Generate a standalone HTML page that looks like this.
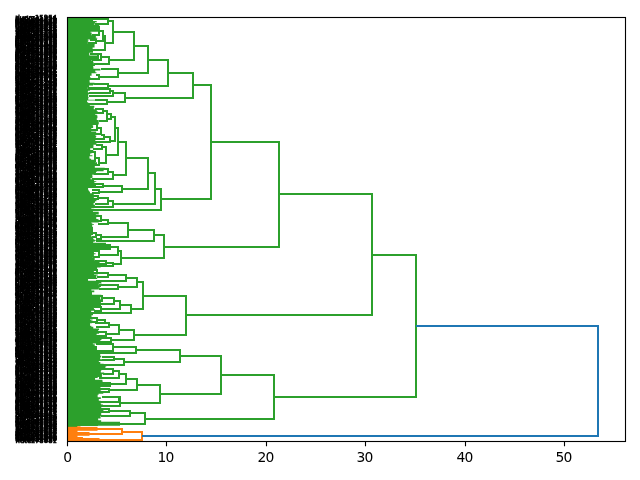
<!DOCTYPE html>
<html><head><meta charset="utf-8"><title>dendrogram</title>
<style>html,body{margin:0;padding:0;background:#fff}svg{display:block}text{font-family:"DejaVu Sans","Liberation Sans",sans-serif;fill:#000}</style></head><body>
<svg width="640" height="480" viewBox="0 0 640 480">
<rect width="640" height="480" fill="#fff"/>
<path fill="#2ca02c" d="M67.5 17.5H94.12V19.27H93.08V21.03H96.67V21.92H95.08V22.80H96.98V23.68H93.93V24.57H99.26V26.33H98.12V27.22H98.01V28.98H98.23V31.63H90.51V32.52H91.62V35.17H95.85V37.82H97.22V38.70H95.75V39.58H87.81V40.47H88.69V41.35H87.88V44.00H94.66V44.88H94.54V47.53H92.64V49.30H94.28V50.18H93.02V52.83H89.30V55.48H98.43V57.25H92.57V59.02H94.08V59.90H91.59V60.78H93.14V62.55H93.85V64.32H94.93V66.08H93.21V66.97H93.38V68.73H100.33V70.50H95.28V72.27H96.48V73.15H91.56V75.80H89.99V77.57H90.88V79.33H89.59V81.98H89.74V82.87H94.46V84.63H93.01V85.52H89.06V87.28H87.80V89.05H89.90V90.82H87.88V92.58H89.04V94.35H88.21V97.00H88.56V97.88H88.25V99.65H95.19V100.53H87.08V102.30H88.21V104.07H89.89V105.83H94.32V107.60H93.77V109.37H96.79V111.13H97.75V112.90H94.69V113.78H95.21V114.67H96.84V115.55H97.44V118.20H96.81V119.97H98.67V121.73H98.78V124.38H92.22V125.27H93.13V127.92H91.40V128.80H91.17V131.45H96.18V133.22H97.02V134.98H95.47V135.87H96.34V136.75H95.99V137.63H95.16V138.52H95.33V141.17H99.62V142.05H96.39V144.70H93.45V145.58H93.52V146.47H93.41V148.23H90.23V150.00H93.28V151.77H91.48V153.53H90.10V155.30H92.42V156.18H89.48V157.95H89.61V158.83H91.13V159.72H95.07V162.37H97.00V165.02H94.84V167.67H104.74V168.55H104.11V170.32H103.54V171.20H96.66V172.08H95.95V174.73H91.95V175.62H92.62V176.50H92.39V178.27H90.50V179.15H94.04V180.92H96.26V181.80H94.45V183.57H96.82V184.45H95.97V186.22H97.74V187.98H88.08V189.75H88.59V190.63H88.98V191.52H89.98V193.28H93.74V195.93H93.98V197.70H93.60V199.47H96.22V200.35H96.48V201.23H94.97V202.12H94.82V203.00H93.60V204.77H94.92V206.53H93.34V207.42H94.28V208.30H91.33V209.18H93.62V210.95H92.94V211.83H98.73V214.48H95.85V216.25H96.26V218.90H98.60V219.78H97.64V220.67H97.32V221.55H98.69V222.43H91.40V223.32H92.33V224.20H93.97V225.08H92.21V226.85H92.72V228.62H92.99V229.50H92.94V231.27H92.65V233.92H91.27V236.57H93.26V239.22H94.38V240.10H95.60V240.98H94.68V241.87H93.15V242.75H105.97V244.52H105.75V245.40H106.19V247.17H105.74V249.82H96.89V250.70H94.67V251.58H93.95V253.35H95.58V254.23H93.90V256.88H92.85V257.77H94.71V260.42H99.59V263.07H99.38V264.83H100.63V267.48H97.10V270.13H93.87V272.78H94.03V274.55H97.74V275.43H96.26V276.32H96.35V278.08H97.15V278.97H88.06V280.73H101.04V282.50H101.59V283.38H98.80V285.15H101.69V286.03H100.91V286.92H99.69V287.80H98.87V289.57H91.37V290.45H94.28V292.22H91.99V293.98H92.05V294.87H101.33V295.75H99.98V296.63H100.34V298.40H100.15V299.28H100.98V301.93H100.91V304.58H101.00V305.47H100.95V306.35H94.09V307.23H93.94V309.00H94.75V309.88H96.67V310.77H91.22V312.53H93.02V315.18H91.53V317.83H90.11V319.60H92.60V320.48H91.29V321.37H90.74V322.25H92.02V323.13H90.09V324.90H90.03V325.78H91.39V326.67H93.28V328.43H99.04V330.20H97.98V331.97H97.64V332.85H99.08V333.73H96.72V334.62H96.51V335.50H98.00V337.27H101.46V339.92H100.36V341.68H99.75V342.57H96.28V343.45H92.85V344.33H94.73V346.98H94.60V347.87H96.07V348.75H95.10V349.63H95.10V351.40H99.72V354.05H100.20V355.82H101.21V357.58H100.00V358.47H100.22V359.35H102.24V361.12H98.85V362.00H100.31V363.77H103.60V364.65H106.35V366.42H105.40V368.18H103.46V369.95H101.35V370.83H100.81V372.60H104.17V374.37H101.93V377.02H97.68V377.90H95.06V379.67H102.30V380.55H102.59V382.32H104.06V384.08H103.17V384.97H102.62V385.85H102.80V386.73H100.45V389.38H101.35V390.27H100.60V391.15H103.29V393.80H98.60V394.68H97.66V397.33H100.82V399.10H98.82V400.87H100.55V403.52H101.19V404.40H103.00V407.05H101.29V409.70H103.44V412.35H101.22V415.00H101.19V415.88H100.59V418.53H98.10V419.42H98.27V420.30H101.16V422.07H100.73V423.83H97.98V425.90H67.5Z"/>
<path fill="#2ca02c" d="M90 243H100L110 245V249H90Z"/>
<path fill="#2ca02c" d="M67.5 421.8H120V425.8H77.5V426.9H67.5Z"/>
<g fill="#ff7f0e"><rect x="67.5" y="426.9" width="10.0" height="14.60"/><rect x="67.5" y="426.9" width="30.0" height="3.90"/><rect x="77" y="426.3" width="3.5" height="2"/><rect x="67.5" y="432" width="22.0" height="3.8"/><rect x="67.5" y="437" width="15.5" height="4.5"/><rect x="67.5" y="438" width="32.0" height="3.5"/></g>
<g fill="none" stroke="#2ca02c" stroke-width="2" stroke-linejoin="miter" stroke-linecap="butt">
<path d="M91.00 19.00H108.00V24.00H95.00M108.00 21.00H113.00V43.00H105.00M103.00 36.00H105.00V50.00H92.00M90.00 40.00H96.00V43.00H88.00M90.00 54.00H98.00V58.00H92.00M99.00 31.00H103.00V41.00H95.00M90.00 27.00H99.00V35.00H92.00M113.00 32.00H134.00V60.00H109.00M101.00 57.00H109.00V64.00H94.00M90.00 54.00H101.00V60.00H92.00M101.00 69.00H118.00V77.00H99.00M96.00 75.00H99.00V79.00H88.00M94.00 84.00H108.00V88.00H88.00M88.00 89.00H110.00V93.00H89.00M110.00 91.00H113.00V96.00H89.00M113.00 93.00H125.00V102.00H107.00M95.00 100.00H107.00V104.00H88.00M95.00 109.00H103.00V113.00H94.00M103.00 111.00H107.00V121.00H99.00M107.00 114.00H111.00V119.00H107.00M111.00 117.00H115.00V141.00H110.00M115.00 128.00H118.00V155.00H106.00M118.00 142.00H126.00V175.00H113.00M104.00 137.00H110.00V142.00H95.00M101.00 135.00H104.00V139.00H94.00M97.00 128.00H101.00V134.00H93.00M92.00 124.00H97.00V130.00H90.00M96.00 145.00H102.00V149.00H93.00M102.00 147.00H106.00V163.00H99.00M95.00 158.00H99.00V165.00H92.00M90.00 152.00H95.00V161.00H90.00M108.00 172.00H113.00V179.00H92.00M96.00 169.00H108.00V174.00H94.00M103.00 186.00H122.00V192.00H99.00M94.00 184.00H103.00V187.00H90.00M92.00 190.00H99.00V193.00H92.00M108.00 201.00H113.00V207.00H92.00M98.00 198.00H108.00V204.00H95.00M92.00 196.00H98.00V199.00H92.00M108.00 223.00H128.00V237.00H101.00M101.00 220.00H108.00V224.00H98.00M95.00 216.00H101.00V221.00H96.00M97.00 235.00H101.00V239.00H96.00M92.00 233.00H96.00V237.00H92.00M88.00 228.00H92.00V234.00H88.00M110.00 247.00H118.00V255.00H99.00M118.00 251.00H121.00V264.00H113.00M106.00 263.00H113.00V266.00H95.00M95.00 261.00H106.00V264.00H95.00M96.00 245.00H110.00V249.00H96.00M93.00 251.00H99.00V257.00H93.00M137.00 282.00H143.00V309.00H131.00M126.00 278.00H137.00V287.00H118.00M108.00 275.00H126.00V281.00H96.00M97.00 273.00H108.00V277.00H97.00M99.00 285.00H118.00V289.00H99.00M120.00 305.00H131.00V313.00H91.00M114.00 301.00H120.00V309.00H101.00M102.00 298.00H114.00V304.00H99.00M95.00 296.00H102.00V301.00H95.00M94.00 307.00H101.00V311.00H94.00M90.00 270.00H97.00V273.00H90.00M119.00 330.00H134.00V340.00H111.00M109.00 325.00H119.00V334.00H106.00M105.00 323.00H109.00V327.00H96.00M97.00 320.00H105.00V323.00H95.00M90.00 318.00H97.00V322.00H90.00M95.00 332.00H106.00V336.00H95.00M95.00 338.00H111.00V342.00H95.00M113.00 347.00H136.00V353.00H96.00M96.00 344.00H113.00V351.00H96.00M90.00 347.00H96.00V351.00H90.00M114.00 359.00H124.00V365.00H100.00M102.00 357.00H114.00V360.00H102.00M103.00 369.00H113.00V374.00H103.00M113.00 371.00H119.00V378.00H99.00M119.00 374.00H126.00V384.00H110.00M97.00 383.00H110.00V386.00H97.00M97.00 384.00H110.00V385.00H97.00M126.00 379.00H137.00V390.00H109.00M100.00 389.00H109.00V392.00H100.00M102.00 397.00H120.00V406.00H92.00M102.00 397.00H119.00V402.00H92.00M130.00 413.00H145.00V424.00H120.00M109.00 411.00H130.00V416.00H101.00M97.00 409.00H109.00V412.00H100.00"/>
<path d="M372.00 255.00H416.00V397.00H274.00M279.00 194.00H372.00V315.00H186.00M211.00 142.00H279.00V247.00H164.00M193.00 85.00H211.00V199.00H161.00M168.00 73.00H193.00V98.00H125.00M148.00 60.00H168.00V86.00H108.00M134.00 46.00H148.00V73.00H118.00M221.00 375.00H274.00V419.00H145.00M180.00 356.00H221.00V394.00H160.00M136.00 350.00H180.00V362.00H124.00M137.00 385.00H160.00V403.00H120.00M143.00 296.00H186.00V335.00H134.00M154.00 235.00H164.00V258.00H121.00M155.00 189.00H161.00V210.00H88.00M148.00 173.00H155.00V204.00H113.00M126.00 158.00H148.00V189.00H122.00M128.00 230.00H154.00V241.00H96.00"/>
</g>
<path fill="none" stroke="#ff7f0e" stroke-width="2" d="M122.00 432.00H142.00V440.00H80.00M80.00 429.00H122.00V434.00H80.00"/>
<path fill="none" stroke="#1f77b4" stroke-width="2" d="M416 326H598V436H142"/>
<rect x="67.5" y="17.5" width="558.00" height="424.00" fill="none" stroke="#000" stroke-width="1.11"/>
<path d="M67.50 441.5v4.86M166.50 441.5v4.86M266.50 441.5v4.86M365.50 441.5v4.86M465.50 441.5v4.86M564.50 441.5v4.86" stroke="#000" stroke-width="1.11" fill="none"/>
<g font-size="13.89px" text-anchor="middle" letter-spacing="-0.9px"><text x="67.25" y="461.9">0</text><text x="165.40" y="461.9">10</text><text x="265.40" y="461.9">20</text><text x="364.40" y="461.9">30</text><text x="464.40" y="461.9">40</text><text x="563.40" y="461.9">50</text></g>
<g font-size="6.94px" text-anchor="end" stroke="#000" stroke-width="0.5"><text x="57.0" y="443.16">hdtez78081</text><text x="57.0" y="442.28">breoc85137</text><text x="57.0" y="441.39">actun34719</text><text x="57.0" y="440.51">betbs30696</text><text x="57.0" y="439.62">dzour38506</text><text x="57.0" y="438.74">hhktn32431</text><text x="57.0" y="437.86">dtzee08494</text><text x="57.0" y="436.98">okher04852</text><text x="57.0" y="436.09">btacu38492</text><text x="57.0" y="435.21">ezrba67196</text><text x="57.0" y="434.33">dzuhr28527</text><text x="57.0" y="433.44">arznn05011</text><text x="57.0" y="432.56">eaztn10215</text><text x="57.0" y="431.68">ekaut13289</text><text x="57.0" y="430.79">odbrz53711</text><text x="57.0" y="429.91">hthko54584</text><text x="57.0" y="429.03">ancte56906</text><text x="57.0" y="428.14">dtokb21305</text><text x="57.0" y="427.26">daarc75086</text><text x="57.0" y="426.38">ndstd08794</text><text x="57.0" y="425.49">btcou63273</text><text x="57.0" y="424.61">nrkao80573</text><text x="57.0" y="423.73">ekudr67881</text><text x="57.0" y="422.84">drson05386</text><text x="57.0" y="421.96">antkb40397</text><text x="57.0" y="421.08">eootk23430</text><text x="57.0" y="420.19">aaruk23536</text><text x="57.0" y="419.31">urokb47884</text><text x="57.0" y="418.43">bzrua94423</text><text x="57.0" y="417.54">bcaor80494</text><text x="57.0" y="416.66">bestd08587</text><text x="57.0" y="415.78">nhtds33313</text><text x="57.0" y="414.89">uehzr04827</text><text x="57.0" y="414.01">etdko22117</text><text x="57.0" y="413.12">hbatc33034</text><text x="57.0" y="412.24">onzth43362</text><text x="57.0" y="411.36">bruze40641</text><text x="57.0" y="410.48">nraka54747</text><text x="57.0" y="409.59">ncard07129</text><text x="57.0" y="408.71">atknh76492</text><text x="57.0" y="407.83">hdste01849</text><text x="57.0" y="406.94">erzdu52684</text><text x="57.0" y="406.06">haatk32571</text><text x="57.0" y="405.18">draas31151</text><text x="57.0" y="404.29">drkab26151</text><text x="57.0" y="403.41">oktdh93768</text><text x="57.0" y="402.53">akoot22988</text><text x="57.0" y="401.64">ezrbh98258</text><text x="57.0" y="400.76">hahzt84148</text><text x="57.0" y="399.88">etsba20864</text><text x="57.0" y="398.99">nerok61884</text><text x="57.0" y="398.11">aaosr51322</text><text x="57.0" y="397.23">bcrdd81522</text><text x="57.0" y="396.34">dcndr18140</text><text x="57.0" y="395.46">atcba99060</text><text x="57.0" y="394.58">ocrbe04512</text><text x="57.0" y="393.69">bsrhu38595</text><text x="57.0" y="392.81">nnrzo37040</text><text x="57.0" y="391.93">annct54122</text><text x="57.0" y="391.04">asotb93636</text><text x="57.0" y="390.16">bhzrd99900</text><text x="57.0" y="389.28">aarns64825</text><text x="57.0" y="388.39">nhkrd21730</text><text x="57.0" y="387.51">bbuzr12471</text><text x="57.0" y="386.62">oorsb39733</text><text x="57.0" y="385.74">hords69670</text><text x="57.0" y="384.86">annrz22223</text><text x="57.0" y="383.98">uuzhr60557</text><text x="57.0" y="383.09">eesrh94786</text><text x="57.0" y="382.21">ntznd95516</text><text x="57.0" y="381.33">btsdb39597</text><text x="57.0" y="380.44">hzroh27059</text><text x="57.0" y="379.56">otuas65599</text><text x="57.0" y="378.68">htuac97117</text><text x="57.0" y="377.79">ercoo59493</text><text x="57.0" y="376.91">onhrs52446</text><text x="57.0" y="376.03">dkhto67928</text><text x="57.0" y="375.14">dcnta32928</text><text x="57.0" y="374.26">ekdet70914</text><text x="57.0" y="373.38">euakt97269</text><text x="57.0" y="372.49">uercd33090</text><text x="57.0" y="371.61">hkroo55121</text><text x="57.0" y="370.73">nthbs51375</text><text x="57.0" y="369.84">urked84174</text><text x="57.0" y="368.96">edntz99600</text><text x="57.0" y="368.08">dtunz55850</text><text x="57.0" y="367.19">duast85773</text><text x="57.0" y="366.31">hzntu20021</text><text x="57.0" y="365.43">htzoa82989</text><text x="57.0" y="364.54">atace75823</text><text x="57.0" y="363.66">destd52754</text><text x="57.0" y="362.78">dtcbh97243</text><text x="57.0" y="361.89">ubstb62028</text><text x="57.0" y="361.01">uarus65296</text><text x="57.0" y="360.12">datdz61048</text><text x="57.0" y="359.24">nozor83378</text><text x="57.0" y="358.36">akaat63527</text><text x="57.0" y="357.48">dazet12381</text><text x="57.0" y="356.59">nnukr44820</text><text x="57.0" y="355.71">ohtka52917</text><text x="57.0" y="354.83">nzthn25206</text><text x="57.0" y="353.94">nkhdr94722</text><text x="57.0" y="353.06">ocaro24895</text><text x="57.0" y="352.18">usaor05173</text><text x="57.0" y="351.29">ukdbr13186</text><text x="57.0" y="350.41">antsd55284</text><text x="57.0" y="349.53">anrac15577</text><text x="57.0" y="348.64">orous62317</text><text x="57.0" y="347.76">obsbt82168</text><text x="57.0" y="346.88">asroa15905</text><text x="57.0" y="345.99">duras06571</text><text x="57.0" y="345.11">ndtbz06902</text><text x="57.0" y="344.23">araaz40959</text><text x="57.0" y="343.34">dutak88719</text><text x="57.0" y="342.46">ddrbk50559</text><text x="57.0" y="341.58">uzhtn79406</text><text x="57.0" y="340.69">adkht50771</text><text x="57.0" y="339.81">oerzu35130</text><text x="57.0" y="338.93">odzra71807</text><text x="57.0" y="338.04">unbts98328</text><text x="57.0" y="337.16">ehats33388</text><text x="57.0" y="336.28">aoucr30522</text><text x="57.0" y="335.39">ohsrn25206</text><text x="57.0" y="334.51">bdths32283</text><text x="57.0" y="333.62">atunc20467</text><text x="57.0" y="332.74">ncarn26823</text><text x="57.0" y="331.86">uketh77741</text><text x="57.0" y="330.98">dhkra10965</text><text x="57.0" y="330.09">aaatk08412</text><text x="57.0" y="329.21">obctb87781</text><text x="57.0" y="328.33">otsdu22560</text><text x="57.0" y="327.44">azrhn67283</text><text x="57.0" y="326.56">ustab88721</text><text x="57.0" y="325.68">hutzb51124</text><text x="57.0" y="324.79">bnrus18762</text><text x="57.0" y="323.91">arcue81088</text><text x="57.0" y="323.03">nctdu59288</text><text x="57.0" y="322.14">nnrse43513</text><text x="57.0" y="321.26">eakdt19581</text><text x="57.0" y="320.38">hzroo74840</text><text x="57.0" y="319.49">hzntd59793</text><text x="57.0" y="318.61">ubkdr37517</text><text x="57.0" y="317.73">bhtse31214</text><text x="57.0" y="316.84">bzorh18920</text><text x="57.0" y="315.96">aunrc69020</text><text x="57.0" y="315.08">hdrns36286</text><text x="57.0" y="314.19">ddsdr78728</text><text x="57.0" y="313.31">bbsru80272</text><text x="57.0" y="312.43">erhec67955</text><text x="57.0" y="311.54">ncnht53676</text><text x="57.0" y="310.66">urdch21428</text><text x="57.0" y="309.78">ncant46755</text><text x="57.0" y="308.89">enocr95806</text><text x="57.0" y="308.01">usuar11611</text><text x="57.0" y="307.12">etdcd02549</text><text x="57.0" y="306.24">btkeh13482</text><text x="57.0" y="305.36">nktbd64696</text><text x="57.0" y="304.48">htsbb29757</text><text x="57.0" y="303.59">druok78255</text><text x="57.0" y="302.71">aotas43919</text><text x="57.0" y="301.83">onosr89150</text><text x="57.0" y="300.94">neocr69572</text><text x="57.0" y="300.06">dsbrn18272</text><text x="57.0" y="299.18">ocour84092</text><text x="57.0" y="298.29">hhacr68197</text><text x="57.0" y="297.41">aztoe45554</text><text x="57.0" y="296.53">dkbat77365</text><text x="57.0" y="295.64">dubkr75673</text><text x="57.0" y="294.76">hhekr79947</text><text x="57.0" y="293.88">eoetz80320</text><text x="57.0" y="292.99">urush24746</text><text x="57.0" y="292.11">oozra72961</text><text x="57.0" y="291.23">nurch02855</text><text x="57.0" y="290.34">dbrnk46414</text><text x="57.0" y="289.46">betsd88518</text><text x="57.0" y="288.58">ehbst54137</text><text x="57.0" y="287.69">baork74967</text><text x="57.0" y="286.81">dohrk90786</text><text x="57.0" y="285.93">uhtnk84961</text><text x="57.0" y="285.04">natsu70369</text><text x="57.0" y="284.16">hdcot43264</text><text x="57.0" y="283.28">ncten06218</text><text x="57.0" y="282.39">huhtk51054</text><text x="57.0" y="281.51">unatc88667</text><text x="57.0" y="280.62">betbs24669</text><text x="57.0" y="279.74">osuto47542</text><text x="57.0" y="278.86">nznrb90424</text><text x="57.0" y="277.98">nosdt54035</text><text x="57.0" y="277.09">darbc00364</text><text x="57.0" y="276.21">hcarh25775</text><text x="57.0" y="275.33">dukhr78871</text><text x="57.0" y="274.44">bcddr09978</text><text x="57.0" y="273.56">dcuut89727</text><text x="57.0" y="272.68">ndcte34945</text><text x="57.0" y="271.79">btbnc07166</text><text x="57.0" y="270.91">eosra29215</text><text x="57.0" y="270.03">adrdz54837</text><text x="57.0" y="269.14">htkub40521</text><text x="57.0" y="268.26">orsua46975</text><text x="57.0" y="267.38">odtca43911</text><text x="57.0" y="266.49">oknor46038</text><text x="57.0" y="265.61">eotse57091</text><text x="57.0" y="264.73">ahsra12141</text><text x="57.0" y="263.84">ehdts20869</text><text x="57.0" y="262.96">nnets38961</text><text x="57.0" y="262.08">uerke77013</text><text x="57.0" y="261.19">necor88847</text><text x="57.0" y="260.31">brhco51109</text><text x="57.0" y="259.43">bcdre73661</text><text x="57.0" y="258.54">nsthe37823</text><text x="57.0" y="257.66">doths36244</text><text x="57.0" y="256.78">dantc86384</text><text x="57.0" y="255.89">uezro15103</text><text x="57.0" y="255.01">hekra25963</text><text x="57.0" y="254.12">hdosr73996</text><text x="57.0" y="253.24">ecuth85907</text><text x="57.0" y="252.36">hzraa27543</text><text x="57.0" y="251.47">nbzot69117</text><text x="57.0" y="250.59">bntoc88681</text><text x="57.0" y="249.71">ezord22876</text><text x="57.0" y="248.82">drzeh45512</text><text x="57.0" y="247.94">obset89945</text><text x="57.0" y="247.06">ukuer17445</text><text x="57.0" y="246.18">nhzdr82496</text><text x="57.0" y="245.29">bodrk27043</text><text x="57.0" y="244.41">bhcta07907</text><text x="57.0" y="243.53">hthec21144</text><text x="57.0" y="242.64">nuust73076</text><text x="57.0" y="241.76">bzata96861</text><text x="57.0" y="240.88">hbztu01088</text><text x="57.0" y="239.99">nbcht18173</text><text x="57.0" y="239.11">ataso83637</text><text x="57.0" y="238.22">dbhts84843</text><text x="57.0" y="237.34">nnrze31375</text><text x="57.0" y="236.46">asabt64799</text><text x="57.0" y="235.57">ousrd21448</text><text x="57.0" y="234.69">druok25010</text><text x="57.0" y="233.81">etzna09436</text><text x="57.0" y="232.93">aston94994</text><text x="57.0" y="232.04">dtosh61451</text><text x="57.0" y="231.16">bnruc07865</text><text x="57.0" y="230.28">nhzto45011</text><text x="57.0" y="229.39">aseet86570</text><text x="57.0" y="228.51">nonrk34220</text><text x="57.0" y="227.62">brzed85154</text><text x="57.0" y="226.74">bekht29694</text><text x="57.0" y="225.86">bbors65946</text><text x="57.0" y="224.97">bbsut73797</text><text x="57.0" y="224.09">ubrds06189</text><text x="57.0" y="223.21">naarz15799</text><text x="57.0" y="222.32">dzobr22020</text><text x="57.0" y="221.44">nnzra67263</text><text x="57.0" y="220.56">nzuat71936</text><text x="57.0" y="219.68">nbazr25316</text><text x="57.0" y="218.79">urauc09667</text><text x="57.0" y="217.91">hddts77111</text><text x="57.0" y="217.03">hrhsu63854</text><text x="57.0" y="216.14">uraak20746</text><text x="57.0" y="215.26">uoezr69240</text><text x="57.0" y="214.38">ehsdr47315</text><text x="57.0" y="213.49">untcu43975</text><text x="57.0" y="212.61">urnec82689</text><text x="57.0" y="211.72">dzdth46770</text><text x="57.0" y="210.84">dztab36907</text><text x="57.0" y="209.96">edtsb45931</text><text x="57.0" y="209.07">onakt66025</text><text x="57.0" y="208.19">nesre00947</text><text x="57.0" y="207.31">uoctu18850</text><text x="57.0" y="206.43">hshht76460</text><text x="57.0" y="205.54">bdhtz90476</text><text x="57.0" y="204.66">obrzu71628</text><text x="57.0" y="203.78">arcdh52372</text><text x="57.0" y="202.89">ueshr96192</text><text x="57.0" y="202.01">ardsa00661</text><text x="57.0" y="201.12">eshat42145</text><text x="57.0" y="200.24">nactu54299</text><text x="57.0" y="199.36">abtkn01782</text><text x="57.0" y="198.47">atnsn12248</text><text x="57.0" y="197.59">ardze55473</text><text x="57.0" y="196.71">ntdnc84843</text><text x="57.0" y="195.82">huzth01184</text><text x="57.0" y="194.94">urbnc03663</text><text x="57.0" y="194.06">dbzar79439</text><text x="57.0" y="193.18">nzddr93012</text><text x="57.0" y="192.29">etuuk27799</text><text x="57.0" y="191.41">nkabr88370</text><text x="57.0" y="190.53">naetk86120</text><text x="57.0" y="189.64">etahs30327</text><text x="57.0" y="188.76">netkn28391</text><text x="57.0" y="187.88">dtuch43454</text><text x="57.0" y="186.99">atues75920</text><text x="57.0" y="186.11">atken18323</text><text x="57.0" y="185.22">hrzab19765</text><text x="57.0" y="184.34">nkbtd44504</text><text x="57.0" y="183.46">oncar04964</text><text x="57.0" y="182.58">dceor41483</text><text x="57.0" y="181.69">bbrbc23459</text><text x="57.0" y="180.81">edbtc45802</text><text x="57.0" y="179.92">ezerb35258</text><text x="57.0" y="179.04">baerz35023</text><text x="57.0" y="178.16">anazt90477</text><text x="57.0" y="177.28">ohtok19822</text><text x="57.0" y="176.39">orzoo90920</text><text x="57.0" y="175.51">oceer93901</text><text x="57.0" y="174.63">aonkt75721</text><text x="57.0" y="173.74">auuts82511</text><text x="57.0" y="172.86">ontcb82431</text><text x="57.0" y="171.97">ehths18623</text><text x="57.0" y="171.09">bnesr88300</text><text x="57.0" y="170.21">drdku47416</text><text x="57.0" y="169.33">otboc47811</text><text x="57.0" y="168.44">nhukr38076</text><text x="57.0" y="167.56">ubsut00775</text><text x="57.0" y="166.67">dnuzr49955</text><text x="57.0" y="165.79">hstae40178</text><text x="57.0" y="164.91">htnhc68835</text><text x="57.0" y="164.03">utbze05754</text><text x="57.0" y="163.14">utonk84959</text><text x="57.0" y="162.26">hnzre08304</text><text x="57.0" y="161.38">etnbk68919</text><text x="57.0" y="160.49">otuak54380</text><text x="57.0" y="159.61">udtbs67081</text><text x="57.0" y="158.72">aerze50789</text><text x="57.0" y="157.84">ucrbb65135</text><text x="57.0" y="156.96">breku07179</text><text x="57.0" y="156.08">ordzo24936</text><text x="57.0" y="155.19">azdht50295</text><text x="57.0" y="154.31">hzhot39910</text><text x="57.0" y="153.42">eoost17268</text><text x="57.0" y="152.54">aeztn44794</text><text x="57.0" y="151.66">ecuat53599</text><text x="57.0" y="150.78">ntash93134</text><text x="57.0" y="149.89">eusot07565</text><text x="57.0" y="149.01">dkrob23614</text><text x="57.0" y="148.13">atsdu19107</text><text x="57.0" y="147.24">ecrbu54354</text><text x="57.0" y="146.36">ehcut91187</text><text x="57.0" y="145.47">daztd92660</text><text x="57.0" y="144.59">dhsrh51314</text><text x="57.0" y="143.71">atcno25972</text><text x="57.0" y="142.83">udtdc05087</text><text x="57.0" y="141.94">nbekr45606</text><text x="57.0" y="141.06">atuzb78351</text><text x="57.0" y="140.17">beztd04247</text><text x="57.0" y="139.29">bracn22541</text><text x="57.0" y="138.41">nnrzu23443</text><text x="57.0" y="137.53">bchbt21151</text><text x="57.0" y="136.64">okrua84778</text><text x="57.0" y="135.76">dtzon22242</text><text x="57.0" y="134.88">bnast34246</text><text x="57.0" y="133.99">brbez70252</text><text x="57.0" y="133.11">bzrnu48090</text><text x="57.0" y="132.22">ehsor95234</text><text x="57.0" y="131.34">erbas90303</text><text x="57.0" y="130.46">ektbd51546</text><text x="57.0" y="129.58">brshb78026</text><text x="57.0" y="128.69">acebt28167</text><text x="57.0" y="127.81">dtchn41612</text><text x="57.0" y="126.92">orsoa19822</text><text x="57.0" y="126.04">nrdce00373</text><text x="57.0" y="125.16">ucaut26088</text><text x="57.0" y="124.28">atkno88174</text><text x="57.0" y="123.39">ukdht89141</text><text x="57.0" y="122.51">dcoot33030</text><text x="57.0" y="121.63">eeket75366</text><text x="57.0" y="120.74">aootk11416</text><text x="57.0" y="119.86">enrko79145</text><text x="57.0" y="118.97">abtku19114</text><text x="57.0" y="118.09">netbc38290</text><text x="57.0" y="117.21">ntbhs15821</text><text x="57.0" y="116.33">etazo19779</text><text x="57.0" y="115.44">ndtke41745</text><text x="57.0" y="114.56">esdor13597</text><text x="57.0" y="113.67">ekuht17699</text><text x="57.0" y="112.79">hobtz38775</text><text x="57.0" y="111.91">nhork47673</text><text x="57.0" y="111.03">aabtz98444</text><text x="57.0" y="110.14">ducta35580</text><text x="57.0" y="109.26">dersa38164</text><text x="57.0" y="108.38">aoork93021</text><text x="57.0" y="107.49">nzthn18334</text><text x="57.0" y="106.61">earcd76975</text><text x="57.0" y="105.72">honzr62224</text><text x="57.0" y="104.84">enrzu51638</text><text x="57.0" y="103.96">nokru65700</text><text x="57.0" y="103.08">ordkn86685</text><text x="57.0" y="102.19">obthz82600</text><text x="57.0" y="101.31">brhzu78924</text><text x="57.0" y="100.42">nrhec40232</text><text x="57.0" y="99.54">ddtkb51454</text><text x="57.0" y="98.66">urnnz17506</text><text x="57.0" y="97.78">esnrb75736</text><text x="57.0" y="96.89">ooset29121</text><text x="57.0" y="96.01">etbsh84863</text><text x="57.0" y="95.13">ohsbt40534</text><text x="57.0" y="94.24">bcnrb42617</text><text x="57.0" y="93.36">eaurz65977</text><text x="57.0" y="92.47">aktua29421</text><text x="57.0" y="91.59">hnsnr36924</text><text x="57.0" y="90.71">atedz08264</text><text x="57.0" y="89.83">hbtbs87387</text><text x="57.0" y="88.94">aknnt75445</text><text x="57.0" y="88.06">dozut80699</text><text x="57.0" y="87.17">etcbo96468</text><text x="57.0" y="86.29">auesr73435</text><text x="57.0" y="85.41">htkaa01705</text><text x="57.0" y="84.53">hndzt13796</text><text x="57.0" y="83.64">adrnc44949</text><text x="57.0" y="82.76">bzdtn41749</text><text x="57.0" y="81.88">udbts46375</text><text x="57.0" y="80.99">haetk21096</text><text x="57.0" y="80.11">orkdd03618</text><text x="57.0" y="79.22">azrbu44361</text><text x="57.0" y="78.34">urzue50149</text><text x="57.0" y="77.46">btbdk99836</text><text x="57.0" y="76.58">btkau90706</text><text x="57.0" y="75.69">usdtb29978</text><text x="57.0" y="74.81">aocer26231</text><text x="57.0" y="73.92">atsau88064</text><text x="57.0" y="73.04">arohc62763</text><text x="57.0" y="72.16">brbcd66821</text><text x="57.0" y="71.28">ocrab86697</text><text x="57.0" y="70.39">hucor24558</text><text x="57.0" y="69.51">uebrc80305</text><text x="57.0" y="68.63">bcrnb48180</text><text x="57.0" y="67.74">hhrhz25169</text><text x="57.0" y="66.86">arkbb59719</text><text x="57.0" y="65.97">osreb56462</text><text x="57.0" y="65.09">adzth39391</text><text x="57.0" y="64.21">nakrn21356</text><text x="57.0" y="63.33">urnhc44657</text><text x="57.0" y="62.44">erncn69732</text><text x="57.0" y="61.56">dbtza08422</text><text x="57.0" y="60.67">brkud68003</text><text x="57.0" y="59.79">berke93822</text><text x="57.0" y="58.91">bdukr32570</text><text x="57.0" y="58.03">nrhsa85998</text><text x="57.0" y="57.14">bcbro70212</text><text x="57.0" y="56.26">akrbn84987</text><text x="57.0" y="55.38">htukd53600</text><text x="57.0" y="54.49">dutsb04023</text><text x="57.0" y="53.61">otezb81905</text><text x="57.0" y="52.73">arezb23672</text><text x="57.0" y="51.84">arduz85488</text><text x="57.0" y="50.96">bztea17048</text><text x="57.0" y="50.08">ntnzd48002</text><text x="57.0" y="49.19">dtbec29357</text><text x="57.0" y="48.31">eeroz00988</text><text x="57.0" y="47.42">abrco61943</text><text x="57.0" y="46.54">utubc53043</text><text x="57.0" y="45.66">bruuk07957</text><text x="57.0" y="44.78">betbk31336</text><text x="57.0" y="43.89">nabrs73776</text><text x="57.0" y="43.01">obsra66910</text><text x="57.0" y="42.13">ntekb60415</text><text x="57.0" y="41.24">dsbut36782</text><text x="57.0" y="40.36">nbbtz23589</text><text x="57.0" y="39.48">aakur87090</text><text x="57.0" y="38.59">dzntd86043</text><text x="57.0" y="37.71">dkeat28438</text><text x="57.0" y="36.83">arhzu76454</text><text x="57.0" y="35.94">ezrbo63466</text><text x="57.0" y="35.06">ebstu25218</text><text x="57.0" y="34.17">uezth04163</text><text x="57.0" y="33.29">odrsn31251</text><text x="57.0" y="32.41">adhtk18047</text><text x="57.0" y="31.53">hestb68446</text><text x="57.0" y="30.64">drnas10515</text><text x="57.0" y="29.76">uozhr93331</text><text x="57.0" y="28.88">ozbra09245</text><text x="57.0" y="27.99">hdrdz86918</text><text x="57.0" y="27.11">bukte09964</text><text x="57.0" y="26.23">hokdt48007</text><text x="57.0" y="25.34">hbzat01259</text><text x="57.0" y="24.46">uunrz30527</text><text x="57.0" y="23.58">obets97943</text><text x="57.0" y="22.69">entsn29172</text><text x="57.0" y="21.81">erhbk84720</text><text x="57.0" y="20.92">butku41221</text><text x="57.0" y="20.04">duarz15354</text></g>
</svg></body></html>
